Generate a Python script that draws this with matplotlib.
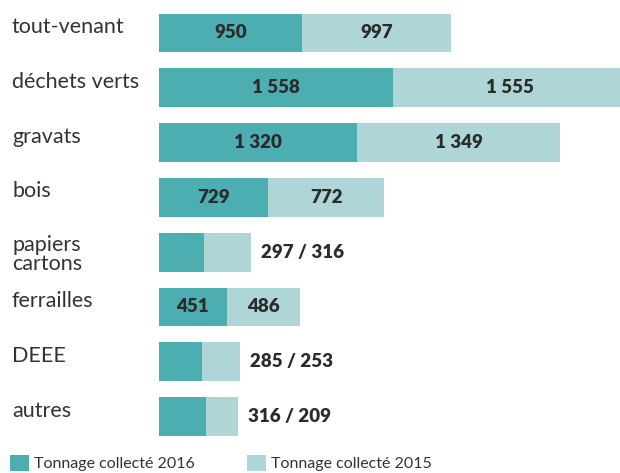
import matplotlib
matplotlib.use('Agg')
import matplotlib.pyplot as plt
from matplotlib import transforms

plt.rcParams['font.family'] = ['Lato', 'DejaVu Sans']

categories = ['tout-venant', 'déchets verts', 'gravats', 'bois',
              'papiers\ncartons', 'ferrailles', 'DEEE', 'autres']
tonnage_2016 = [950, 1558, 1320, 729, 297, 451, 285, 316]
tonnage_2015 = [997, 1555, 1349, 772, 316, 486, 253, 209]
# categories whose values are written outside the bar as "a / b"
outside = [False, False, False, False, True, False, True, True]

color_2016 = '#4daeb2'
color_2015 = '#aed6d6'
text_color = '#2b2b2b'


def fmt(v):
    s = '{:,}'.format(v).replace(',', ' ')
    return s


W, H = 620, 473
fig = plt.figure(figsize=(W / 100, H / 100), dpi=100)
ax = fig.add_axes([159 / W, 0, 1 - 159 / W, 1])

# bar i centred at pixel 33 + 54.8*i
step = 54.8
ax.set_ylim((H - 33) / step, -33 / step)
ax.set_xlim(0, 3070)
ax.axis('off')

ys = list(range(len(categories)))
ax.barh(ys, tonnage_2016, height=0.71, color=color_2016, label='Tonnage collecté 2016')
ax.barh(ys, tonnage_2015, left=tonnage_2016, height=0.71, color=color_2015,
        label='Tonnage collecté 2015')

num_size = 13.5
for i, (a, b) in enumerate(zip(tonnage_2016, tonnage_2015)):
    if outside[i]:
        ax.annotate('{} / {}'.format(fmt(a), fmt(b)), xy=(a + b, i),
                    xytext=(7, 0), textcoords='offset points',
                    ha='left', va='center', fontsize=num_size, fontweight='heavy',
                    color=text_color)
    else:
        ax.text(a / 2, i, fmt(a), ha='center', va='center', fontsize=num_size,
                fontweight='heavy', color=text_color)
        ax.text(a + b / 2, i, fmt(b), ha='center', va='center', fontsize=num_size,
                fontweight='heavy', color=text_color)

# category names on the left
trans = transforms.blended_transform_factory(fig.transFigure, ax.transData)
for i, name in enumerate(categories):
    if '\n' in name:
        ax.text(12 / W, i + 0.33, name, transform=trans, ha='left', va='baseline',
                fontsize=15.5, color='#333333', linespacing=0.95)
    else:
        ax.text(12 / W, i + 0.0, name, transform=trans, ha='left', va='baseline',
                fontsize=15.5, color='#333333')

leg = fig.legend(loc='lower left', bbox_to_anchor=(8 / W, 0 / H), ncol=2,
                 frameon=False, fontsize=11.5, handlelength=1.2, handleheight=1.2,
                 handletextpad=0.3, columnspacing=3.3, borderaxespad=0,
                 borderpad=0.1)
for t in leg.get_texts():
    t.set_color('#333333')

fig.savefig('out.png', dpi=100)
